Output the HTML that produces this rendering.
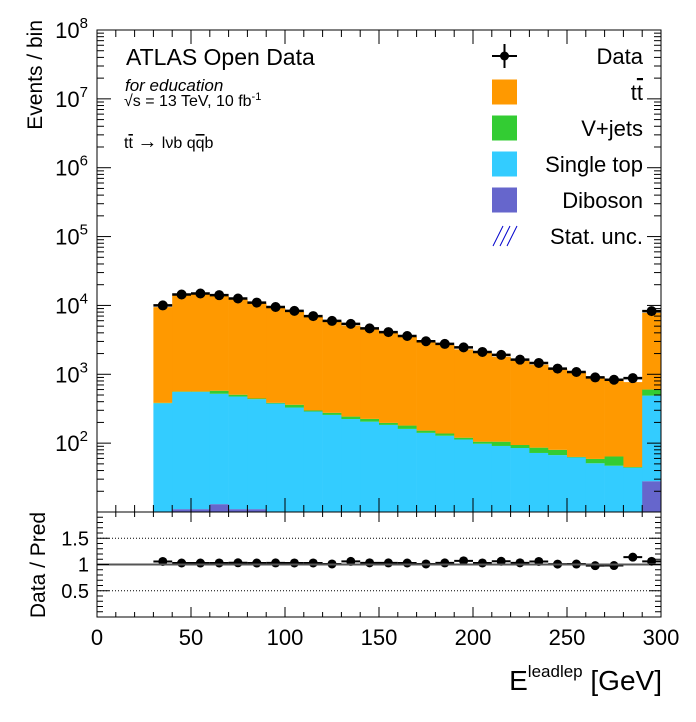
<!DOCTYPE html>
<html><head><meta charset="utf-8"><style>
body{margin:0;background:#fff;}
svg{display:block;font-family:"Liberation Sans",sans-serif;}
</style></head><body>
<svg id="c" width="696" height="722" viewBox="0 0 696 722">
<rect x="0" y="0" width="696" height="722" fill="#fff"/>
<g id="main"></g>
<g id="ratio"></g>
<g id="axes"></g>
<text x="126" y="65" font-size="23">ATLAS Open Data</text>
<text x="125" y="91" font-size="17" font-style="italic">for education</text>
<text x="124" y="106" font-size="16">√s = 13 TeV, 10 fb<tspan dy="-6" font-size="11">-1</tspan></text>
<text x="124" y="148" font-size="16">t<tspan text-decoration="overline">t</tspan> <tspan font-size="20">→</tspan> lνb q<tspan text-decoration="overline">q</tspan>b</text>
<text transform="translate(42,20) rotate(-90)" text-anchor="end" font-size="21">Events / bin</text>
<text transform="translate(45,565) rotate(-90)" text-anchor="middle" font-size="21">Data / Pred</text>
<text x="662" y="690" text-anchor="end" font-size="28">E<tspan dy="-13" font-size="17">leadlep</tspan><tspan dy="13"> [GeV]</tspan></text>
<g id="legend"></g>
</svg>
<script>
const binLow = [30,40,50,60,70,80,90,100,110,120,130,140,150,160,170,180,190,200,210,220,230,240,250,260,270,280,290];
const diboson = [1,11,11,13,11,11,3,2,2,2,1,1,1,1,1,1,1,1,1,1,1,1,1,1,1,1,28];
const singleTop = [379,546,546,508,464,424,373,327,286,255,223,204,183,160,140,127,112,97,90,84,71,66,61,50,46,43,462];
const vjets = [5,5,5,56,30,10,9,32,10,19,19,20,13,19,11,10,7,7,14,9,14,13,1,8,17,1,110];
const ttbar = [9065,13438,13938,13123,11695,10255,8815,7739,6502,5624,4857,4275,3783,3320,2838,2542,2180,1945,1695,1486,1294,1120,1007,861,786,725,7200];
const data = [10000,14400,14900,14100,12600,11000,9480,8340,7000,5960,5400,4640,4100,3600,3020,2760,2460,2110,1910,1630,1460,1210,1080,900,833,878,8270];
const yTickExp = [2,3,4,5,6,7,8];
const xTicks = [0,50,100,150,200,250,300];
const rTicks = [0.5,1,1.5];

const NS="http://www.w3.org/2000/svg";
const L=97,R=661,T=30,B=512,RT=512,RB=617;
const X=v=>L+(v/300)*(R-L);
const Y=v=>B-(Math.log10(Math.max(v,10))-1)/7*(B-T);
const RY=v=>RB-(v/2)*(RB-RT);
function mk(tag,a,p){const e=document.createElementNS(NS,tag);for(const k in a)e.setAttribute(k,a[k]);p.appendChild(e);return e;}
const main=document.getElementById('main'),ratio=document.getElementById('ratio'),axes=document.getElementById('axes'),leg=document.getElementById('legend');
const procs=[[diboson,'#6666cc','diboson'],[singleTop,'#33ccff','single-top'],[vjets,'#33cc33','vjets'],[ttbar,'#ff9900','ttbar']];
const totals=binLow.map((b,i)=>diboson[i]+singleTop[i]+vjets[i]+ttbar[i]);
binLow.forEach((b,i)=>{
  let cum=0;
  procs.forEach(([arr,col,nm])=>{
    const lo=cum;cum+=arr[i];
    const y1=Y(cum),y0=lo<=0?B:Y(lo);
    if(y0-y1<=0)return;
    const r=mk('rect',{x:X(b),y:y1,width:X(b+10)-X(b)+0.3,height:y0-y1,fill:col},main);
    
    
  });
});
binLow.forEach((b,i)=>{
  const cx=X(b+5),cy=Y(data[i]);
  const g=mk('g',{},main);
  
  
  mk('line',{x1:X(b),x2:X(b+10),y1:cy,y2:cy,stroke:'#000','stroke-width':2.5},g);
  mk('circle',{cx:cx,cy:cy,r:5,fill:'#000'},g);
  const rv=data[i]/totals[i],ry=RY(rv);
  const g2=mk('g',{},ratio);
  
  
  mk('line',{x1:X(b),x2:X(b+10),y1:ry,y2:ry,stroke:'#000','stroke-width':2},g2);
  mk('circle',{cx:cx,cy:ry,r:4.5,fill:'#000'},g2);
});
mk('line',{x1:L,x2:R,y1:RY(1),y2:RY(1),stroke:'#555','stroke-width':2},ratio);
rTicks.filter(v=>v!==1).forEach(v=>mk('line',{x1:L,x2:R,y1:RY(v),y2:RY(v),stroke:'#000','stroke-width':1,'stroke-dasharray':'1,2'},ratio));
mk('rect',{x:L,y:T,width:R-L,height:B-T,fill:'none',stroke:'#000','stroke-width':1},axes);
mk('rect',{x:L,y:RT,width:R-L,height:RB-RT,fill:'none',stroke:'#000','stroke-width':1},axes);
for(let v=0;v<=300;v+=10){
  const major=v%50===0,x=X(v);
  mk('line',{x1:x,x2:x,y1:B,y2:B-(major?14:7),stroke:'#000'},axes);
  mk('line',{x1:x,x2:x,y1:T,y2:T+(major?14:7),stroke:'#000'},axes);
  mk('line',{x1:x,x2:x,y1:RB,y2:RB-(major?10:5),stroke:'#000'},axes);
  mk('line',{x1:x,x2:x,y1:RT,y2:RT+(major?10:5),stroke:'#000'},axes);
}
xTicks.forEach(v=>{const t=mk('text',{x:X(v),y:645,'text-anchor':'middle','font-size':22},axes);t.textContent=v;
  
  });
for(let e=1;e<8;e++){for(let m=1;m<10;m++){const y=Y(m*Math.pow(10,e));const len=m===1?14:7;
  mk('line',{x1:L,x2:L+len,y1:y,y2:y,stroke:'#000'},axes);mk('line',{x1:R,x2:R-len,y1:y,y2:y,stroke:'#000'},axes);}}
mk('line',{x1:L,x2:L+14,y1:T,y2:T,stroke:'#000'},axes);
yTickExp.forEach(e=>{const t=mk('text',{x:88,y:Y(Math.pow(10,e))+8,'text-anchor':'end','font-size':22},axes);
  
  
  t.innerHTML='10<tspan dy="-10" font-size="15">'+e+'</tspan>';});
for(let v=0.1;v<2;v+=0.1){const y=RY(v);const major=Math.abs(v*2-Math.round(v*2))<0.01;const len=major?12:6;
  mk('line',{x1:L,x2:L+len,y1:y,y2:y,stroke:'#000'},axes);mk('line',{x1:R,x2:R-len,y1:y,y2:y,stroke:'#000'},axes);}
rTicks.forEach(v=>{const t=mk('text',{x:89,y:RY(v)+7,'text-anchor':'end','font-size':20},axes);t.textContent=String(v);
  
  });
const legItems=[['Data',null],['tt̄','#ff9900'],['V+jets','#33cc33'],['Single top','#33ccff'],['Diboson','#6666cc'],['Stat. unc.','hatch']];
legItems.forEach(([lab,col],i)=>{
  const cy=56+i*36;
  const g=mk('g',{},leg);
  
  
  if(col===null){mk('line',{x1:492,x2:517,y1:cy,y2:cy,stroke:'#000','stroke-width':2},g);mk('line',{x1:504.5,x2:504.5,y1:cy-12,y2:cy+12,stroke:'#000','stroke-width':2},g);mk('circle',{cx:504.5,cy:cy,r:4.5,fill:'#000'},g);}
  else if(col==='hatch'){for(let k=0;k<3;k++)mk('line',{x1:493+k*7,y1:cy+10,x2:503+k*7,y2:cy-10,stroke:'#0000cc','stroke-width':1},g);}
  else mk('rect',{x:492,y:cy-12.5,width:25,height:25,fill:col},g);
  const t=mk('text',{x:643,y:cy+8,'text-anchor':'end','font-size':22},g);
  if(lab==='tt̄')t.innerHTML='t<tspan text-decoration="overline">t</tspan>';else t.textContent=lab;
});
</script>
</body></html>
